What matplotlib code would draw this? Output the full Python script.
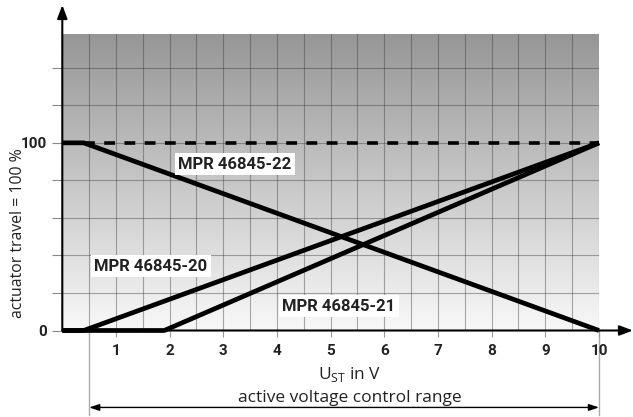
import numpy as np
import matplotlib
matplotlib.use("Agg")
import matplotlib.pyplot as plt
from matplotlib.colors import LinearSegmentedColormap

# Data
u_22 = [0, 0.4, 10]
travel_22 = [100, 100, 0]
u_20 = [0, 0.4, 10]
travel_20 = [0, 0, 100]
u_21 = [0, 1.9, 10]
travel_21 = [0, 0, 100]
u_full = [0.4, 10]
travel_full = [100, 100]

labels = ["MPR 46845-22", "MPR 46845-20", "MPR 46845-21"]
label_pos = [(3.22, 88.5), (1.65, 34.3), (5.15, 13.0)]

x_ticks = list(range(1, 11))
y_ticks = [0, 100]
y_grid = [20, 40, 60, 80, 120, 140]
range_start, range_end = 0.5, 10

plt.rcParams["font.family"] = ["Open Sans", "DejaVu Sans"]
bold_font = ["Roboto", "DejaVu Sans"]

fig = plt.figure(figsize=(6.33, 4.17), dpi=100)
ax = fig.add_axes([62.3 / 633, (417 - 330.5) / 417, (599 - 62.3) / 633, (330.5 - 34) / 417])
ax.set_xlim(0, 10)
ax.set_ylim(0, 158)

# Hintergrund mit Verlauf
cmap = LinearSegmentedColormap.from_list("bg", ["#f8f8f8", "#969696"])
grad = np.linspace(0, 1, 256).reshape(-1, 1)
ax.imshow(grad, extent=[0, 10, 0, 158], origin="lower", aspect="auto", cmap=cmap, zorder=0)

# Gitter
ax.set_xticks(x_ticks)
ax.set_xticks(np.arange(0.5, 10.5, 0.5), minor=True)
ax.set_yticks(y_ticks)
ax.set_yticks(y_grid, minor=True)
ax.grid(True, which="both", color="#3a3a3a", alpha=0.42, lw=0.8, zorder=1)
ax.set_axisbelow(False)
ax.tick_params(axis="x", which="major", length=4, width=0.8, color="#999999", pad=6,
               labelsize=11)
ax.tick_params(axis="x", which="minor", length=0)
ax.tick_params(axis="y", which="both", length=7, width=0.8, color="#888888", pad=4,
               labelsize=11)
for t in ax.get_xticklabels() + ax.get_yticklabels():
    t.set_fontweight("bold")
    t.set_family(bold_font)
    t.set_color("#222222")

for s in ["top", "right", "left", "bottom"]:
    ax.spines[s].set_visible(False)

# Achsenpfeile
ax.annotate("", xy=(1.0, 0), xycoords=("figure fraction", "data"),
            xytext=(0, 0), textcoords="data",
            arrowprops=dict(arrowstyle="-|>,head_length=0.8,head_width=0.3", color="black",
                            lw=1.5, shrinkA=0, shrinkB=0), annotation_clip=False)
ax.annotate("", xy=(0, 412 / 417), xycoords=("data", "figure fraction"),
            xytext=(0, 0), textcoords="data",
            arrowprops=dict(arrowstyle="-|>,head_length=0.8,head_width=0.3", color="black",
                            lw=1.5, shrinkA=0, shrinkB=0), annotation_clip=False)

# Kennlinien
ax.plot(u_full, travel_full, color="black", lw=2.6, ls=(0, (3, 2.6)), zorder=3)
for u, tr in [(u_22, travel_22), (u_20, travel_20), (u_21, travel_21)]:
    ax.plot(u, tr, color="black", lw=3.4, solid_capstyle="butt", zorder=4, clip_on=False)

for txt, (x, y) in zip(labels, label_pos):
    ax.text(x, y, txt, fontsize=12, fontweight="bold", family=bold_font, color="#222222",
            ha="center", va="center", zorder=5,
            bbox=dict(facecolor="white", edgecolor="none", pad=2.5))

# Y-Beschriftung
fig.text(18 / 633, 1 - 233 / 417, "actuator travel = 100 %", rotation=90,
         ha="center", va="center", fontsize=11.4, color="#222222")

# X-Beschriftung und Bereich
ax.text(5.35, -23.7, r"U$_{\mathregular{ST}}$ in V", ha="center", va="center",
        fontsize=12.5, color="#222222", clip_on=False)
ax.text(5.35, -35.8, "active voltage control range", ha="center", va="center",
        fontsize=12.5, color="#222222", clip_on=False)
for xv in [range_start, range_end]:
    ax.plot([xv, xv], [0, -45], color="#aaaaaa", lw=1.0, clip_on=False, zorder=1)
ax.annotate("", xy=(range_end, -41), xytext=(range_start, -41), xycoords="data",
            arrowprops=dict(arrowstyle="<|-|>,head_length=0.6,head_width=0.2", color="black",
                            lw=1.0, shrinkA=0, shrinkB=0), annotation_clip=False)

fig.savefig("out.png", dpi=100)
